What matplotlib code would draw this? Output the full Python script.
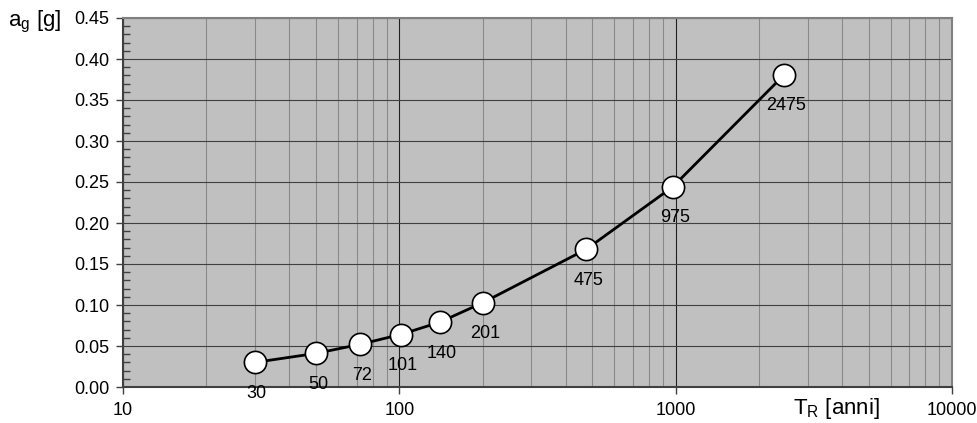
import numpy as np
import matplotlib.pyplot as plt
from matplotlib.ticker import LogLocator, MultipleLocator, FixedFormatter, FixedLocator

plt.rcParams['font.family'] = ['Liberation Sans', 'DejaVu Sans']

# periodi di ritorno e accelerazioni
tr = [30, 50, 72, 101, 140, 201, 475, 975, 2475]
ag = [0.030, 0.041, 0.052, 0.064, 0.079, 0.103, 0.168, 0.244, 0.381]
x_ticks = [10, 100, 1000, 10000]
x_tick_labels = ['10', '100', '1000', '10000']

fig = plt.figure(figsize=(9.78, 4.23), dpi=100)
ax = fig.add_axes([123 / 978, 1 - 387 / 423, (952 - 123) / 978, (387 - 18) / 423])
ax.set_facecolor('#c0c0c0')

ax.set_xscale('log')
ax.set_xlim(10, 10000)
ax.set_ylim(0, 0.45)

ax.xaxis.set_major_locator(FixedLocator(x_ticks))
ax.xaxis.set_major_formatter(FixedFormatter(x_tick_labels))
ax.xaxis.set_minor_locator(LogLocator(base=10, subs=np.arange(2, 10)))
ax.xaxis.set_minor_formatter(FixedFormatter([]))
ax.yaxis.set_major_locator(MultipleLocator(0.05))
ax.yaxis.set_minor_locator(MultipleLocator(0.01))
ax.yaxis.set_major_formatter(plt.FuncFormatter(lambda v, p: f'{v:.2f}'))

ax.grid(which='major', axis='x', color='#202020', lw=0.8)
ax.grid(which='minor', axis='x', color='#8a8a8a', lw=0.8)
ax.grid(which='major', axis='y', color='#404040', lw=0.8)
ax.set_axisbelow(True)

ax.tick_params(axis='y', which='major', direction='out', length=5, width=1, colors='#404040',
               labelcolor='black', labelsize=13, pad=5)
ax.tick_params(axis='y', which='minor', direction='in', length=5, width=1, colors='#404040')
ax.tick_params(axis='x', which='major', direction='out', length=5, width=1, colors='#404040',
               labelcolor='black', labelsize=13, pad=6)
ax.tick_params(axis='x', which='minor', length=0)

for s in ['left', 'bottom']:
    ax.spines[s].set_color('#404040')
    ax.spines[s].set_linewidth(1.5)
for s in ['top', 'right']:
    ax.spines[s].set_color('#808080')
    ax.spines[s].set_linewidth(1.5)

ax.plot(tr, ag, color='black', lw=2, marker='o', ms=16, mfc='white', mec='black', mew=1.2,
        zorder=5, clip_on=False)

for t, a in zip(tr, ag):
    ax.annotate(str(t), (t, a), xytext=(2, -31), textcoords='offset pixels',
                ha='center', va='center', fontsize=13, zorder=6, annotation_clip=False)

fig.text(8 / 978, 1 - 22 / 423, r'a$_\mathregular{g}$ [g]', fontsize=16, va='center', ha='left')
fig.text(793 / 978, 1 - 408 / 423, r'T$_\mathregular{R}$ [anni]', fontsize=16, va='center', ha='left')

fig.savefig('out.png', dpi=100)
